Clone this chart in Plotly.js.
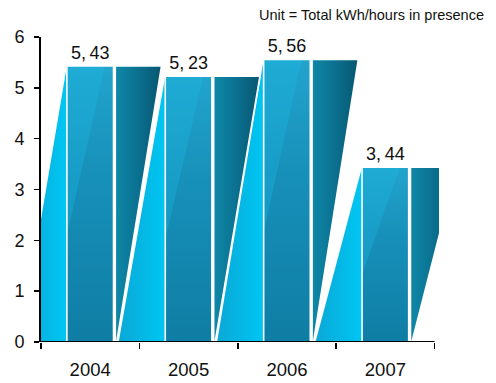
<!DOCTYPE html>
<html>
<head>
<meta charset="utf-8">
<script src="https://cdn.plot.ly/plotly-3.0.1.min.js"></script>
<style>
  html, body { margin: 0; padding: 0; background: #ffffff; }
  #chart { width: 496px; height: 383px; }
</style>
</head>
<body>
<div id="chart"></div>
<script>
// Energy use per year
const years = ['2004', '2005', '2006', '2007'];
const consumption = [5.43, 5.23, 5.56, 3.44];
const yTicks = [0, 1, 2, 3, 4, 5, 6];
const unitNote = 'Unit = Total kWh/hours in presence';

// Prism geometry, in category units measured from each category centre
const FRONT_HALF = 0.237;  // half width of the textured front face
const SIDE_X0 = 0.255;     // left edge of the shaded side face
const SIDE_TOP = 0.725;    // top-right corner of the side face
const SIDE_FOOT = 0.27;    // where the side face meets the baseline
const SLANT_FOOT = -0.71;  // foot of the lit slanted face
const GLOW_TOP = 0.15;     // light streak seen through the front face
const GLOW_FOOT = -0.48;

const FONT = 'Liberation Sans, Arial, sans-serif';
const fmt = v => v.toFixed(2).replace('.', ',\u2009');

const poly = (x, y, extra) => Object.assign({
  type: 'scatter', mode: 'lines', hoverinfo: 'skip', showlegend: false,
  x, y, fill: 'toself', line: { width: 0, color: 'rgba(0,0,0,0)' }
}, extra);

const slantFaces = [], fronts = [], glows = [], textures = [], sides = [];

years.forEach((yr, i) => {
  const v = consumption[i];
  const left = i - FRONT_HALF, right = i + FRONT_HALF;
  // where the streak's right edge crosses the front face's left edge
  const yc = v * (-FRONT_HALF - GLOW_FOOT) / (GLOW_TOP - GLOW_FOOT);

  slantFaces.push(poly([i + SLANT_FOOT, left, left, i + SLANT_FOOT], [0, v, 0, 0], {
    fillgradient: { type: 'horizontal', colorscale: [[0, '#0aa8d6'], [1, '#00c6f3']] }
  }));

  fronts.push(poly([left, left, right, right, left], [0, v, v, 0, 0], {
    fillgradient: { type: 'vertical',
      colorscale: [[0, '#1185ac'], [0.6, '#1a9ac4'], [1, '#26b0da']] }
  }));

  glows.push(poly([left, left, i + GLOW_TOP, left], [yc, v, v, yc], {
    fillcolor: 'rgba(30,205,248,0.3)'
  }));

  // fine dashed texture and white rim over the front face
  textures.push(poly([left, left, right, right, left], [0, v, v, 0, 0], {
    fillcolor: 'rgba(0,0,0,0)',
    line: { width: 1.6, color: '#ffffff' },
    fillpattern: { shape: '|', size: 2, solidity: 0.5,
      fgcolor: '#003f5c', fgopacity: 0.22, bgcolor: 'rgba(0,0,0,0)' }
  }));

  sides.push(poly(
    [i + SIDE_X0, i + SIDE_X0, i + SIDE_TOP, i + SIDE_FOOT, i + SIDE_X0],
    [0, v, v, 0, 0], {
    line: { width: 1.6, color: '#ffffff' },
    fillgradient: { type: 'horizontal',
      colorscale: [[0, '#0f88a8'], [0.5, '#0b7090'], [1, '#07566f']] }
  }));
});

// value labels above each front face
const labels = {
  type: 'bar', hoverinfo: 'skip', showlegend: false,
  x: years.map((_, i) => i), y: consumption, width: 2 * FRONT_HALF,
  marker: { color: 'rgba(0,0,0,0)', line: { width: 0 } },
  text: consumption.map(fmt), textposition: 'outside', cliponaxis: false,
  textfont: { family: FONT, size: 18, color: '#111111' }
};

const traces = [labels, ...slantFaces, ...fronts, ...glows, ...textures, ...sides];

const layout = {
  width: 496, height: 383,
  margin: { l: 41, r: 57, t: 37, b: 41, pad: 0 },
  paper_bgcolor: '#ffffff', plot_bgcolor: '#ffffff',
  showlegend: false,
  barmode: 'overlay',
  font: { family: FONT, color: '#111111' },
  xaxis: {
    range: [-0.5, 3.545], fixedrange: true,
    showgrid: false, zeroline: false, showline: false,
    tickmode: 'array', tickvals: [-0.5, 0.5, 1.5, 2.5, 3.5],
    ticks: 'outside', ticklen: 6, tickwidth: 1.5, tickcolor: '#000000',
    showticklabels: false
  },
  xaxis2: {
    overlaying: 'x', matches: 'x', anchor: 'y', side: 'bottom',
    showgrid: false, zeroline: false, showline: false, ticks: '',
    tickmode: 'array', tickvals: years.map((_, i) => i), ticktext: years,
    ticklabelstandoff: 14,
    tickfont: { family: FONT, size: 18.5, color: '#111111' }
  },
  yaxis: {
    range: [0, 6], fixedrange: true,
    showgrid: false, zeroline: false,
    showline: true, linewidth: 2, linecolor: '#000000',
    tickmode: 'array', tickvals: yTicks,
    ticks: 'outside', ticklen: 5, tickwidth: 1.5, tickcolor: '#000000',
    ticklabelstandoff: 6,
    tickfont: { family: FONT, size: 18, color: '#111111' }
  },
  shapes: [{
    type: 'line', xref: 'x', yref: 'y', layer: 'above',
    x0: -0.5, x1: 3.5, y0: 0, y1: 0,
    line: { color: '#000000', width: 2 }
  }],
  annotations: [{
    xref: 'paper', yref: 'paper', x: 1, y: 1,
    xanchor: 'right', yanchor: 'bottom', xshift: 47, yshift: 12,
    showarrow: false, text: unitNote,
    font: { family: FONT, size: 14.5, color: '#111111' }
  }]
};

// a hidden trace on the second axis so its labels are drawn
traces.push({ type: 'scatter', x: [0], y: [0], xaxis: 'x2', mode: 'markers',
  marker: { opacity: 0 }, hoverinfo: 'skip', showlegend: false });

Plotly.newPlot('chart', traces, layout, { staticPlot: true, displayModeBar: false });
</script>
</body>
</html>
